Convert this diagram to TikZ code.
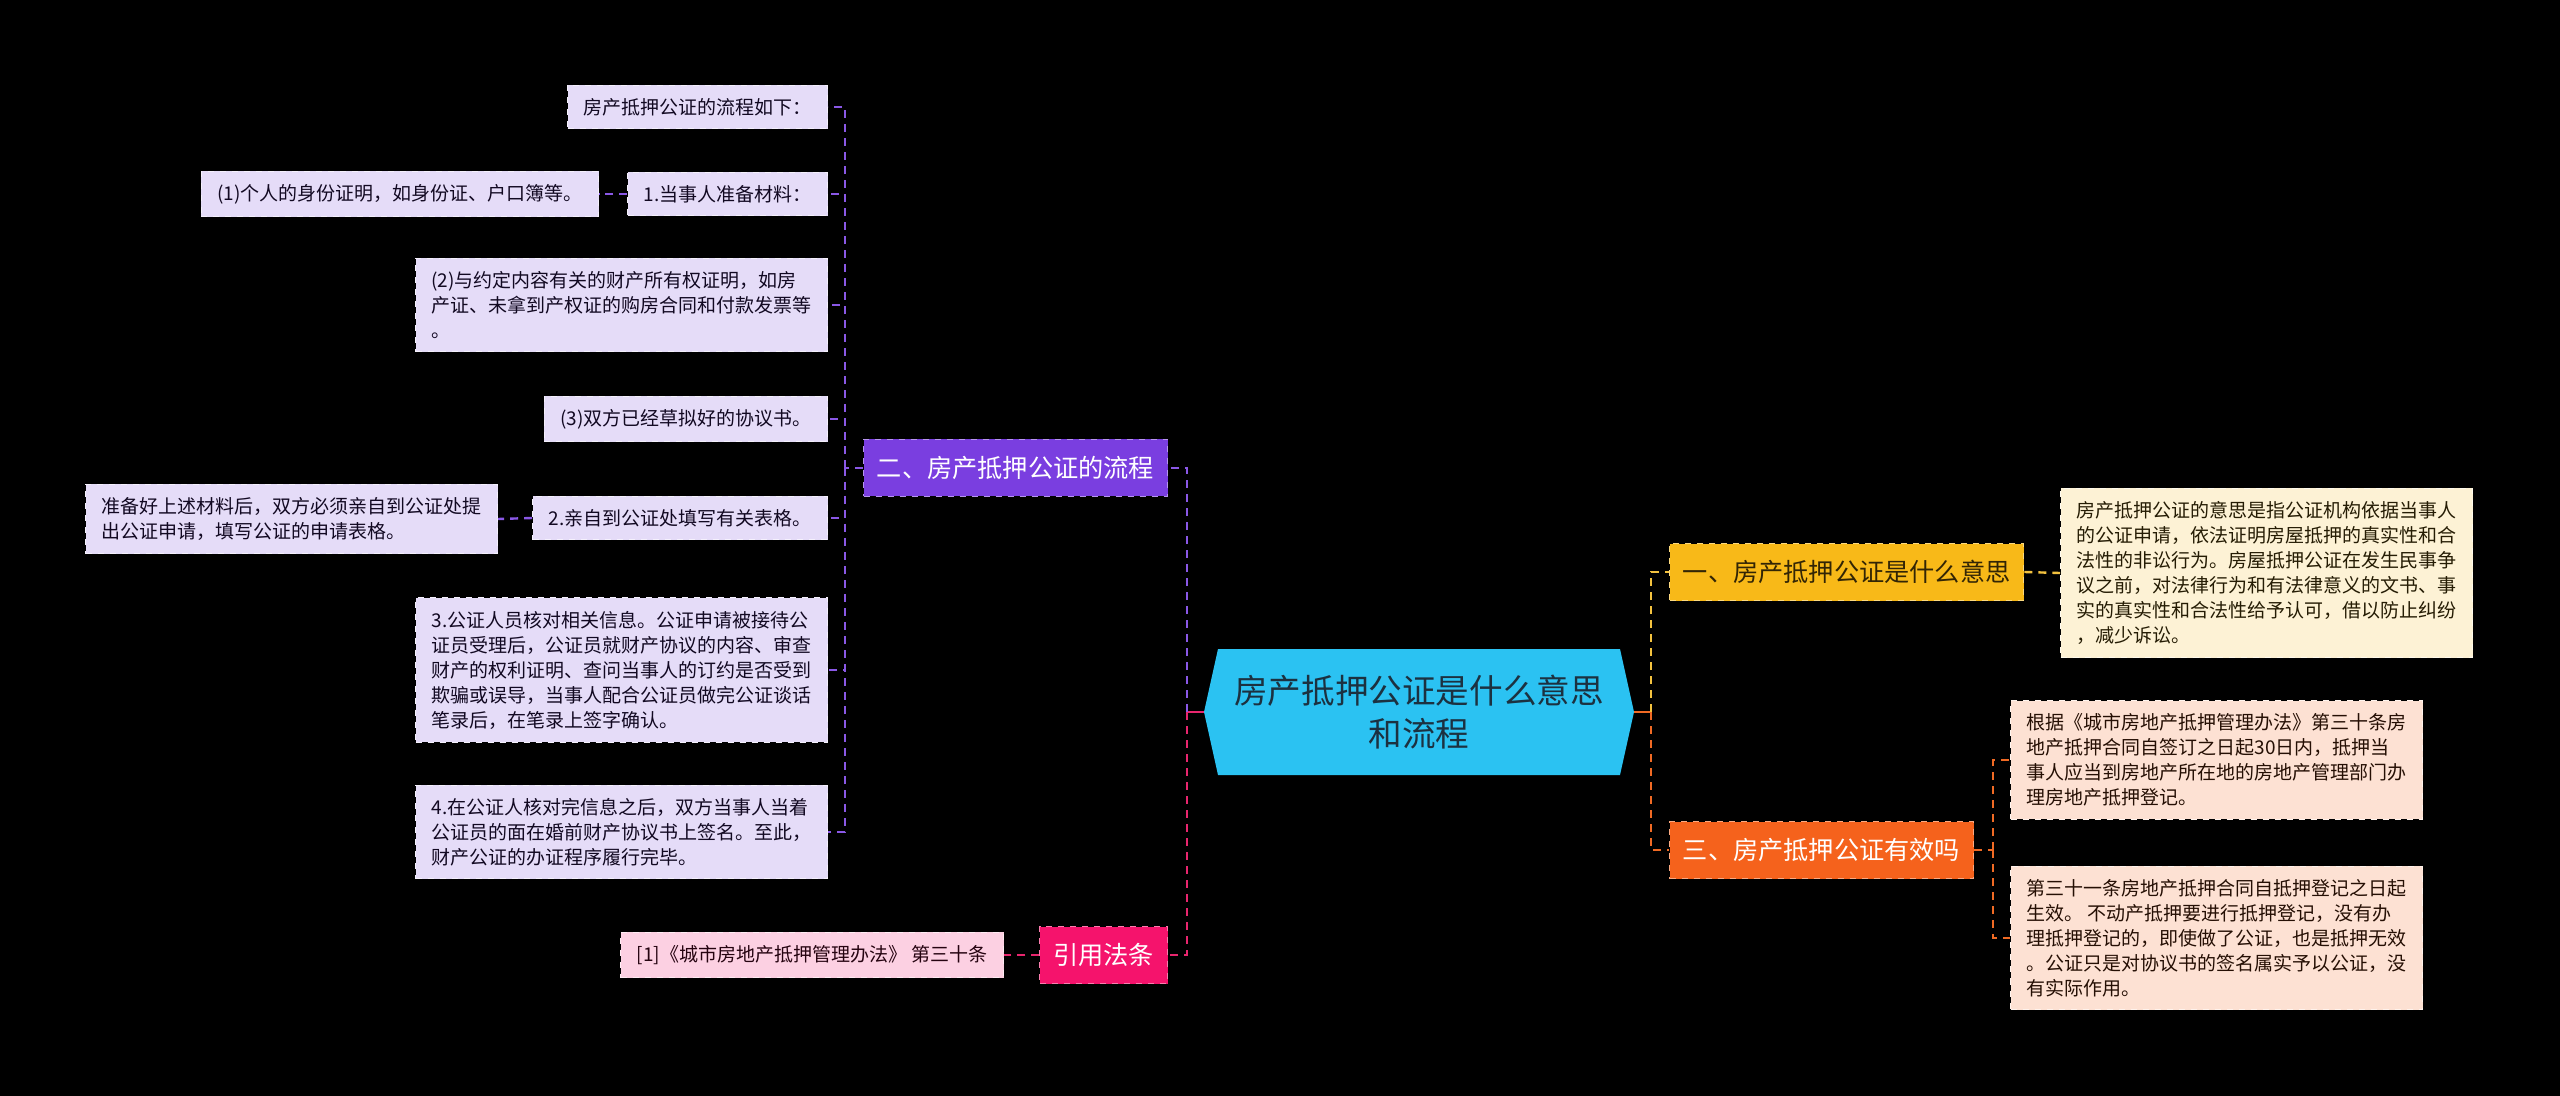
\documentclass[tikz,border=0pt]{standalone}
\usepackage{fontspec}
\setmainfont{Noto Sans CJK SC}
\usepackage{tikz}
\usetikzlibrary{positioning, calc}

\definecolor{rootblue}{HTML}{2BC2F2}
\definecolor{rootink}{HTML}{1C3140}
\definecolor{flowfill}{HTML}{7A3EE0}
\definecolor{flowleaf}{HTML}{E5DCF8}
\definecolor{flowline}{HTML}{8A58E6}
\definecolor{citefill}{HTML}{F5136C}
\definecolor{citeleaf}{HTML}{FCD0E2}
\definecolor{citeline}{HTML}{E8266E}
\definecolor{meanfill}{HTML}{F8B918}
\definecolor{meanleaf}{HTML}{FDF2D5}
\definecolor{meanline}{HTML}{F3C23F}
\definecolor{validfill}{HTML}{F5621C}
\definecolor{validleaf}{HTML}{FDE1D3}
\definecolor{validline}{HTML}{F06A24}

\begin{document}
\begin{tikzpicture}[
x=0.5pt, y=-0.5pt,
    root/.style={inner sep=0pt, minimum width=215pt, minimum height=63pt, align=center, text=rootink,
        font=\fontsize{16.8}{21.5}\selectfont,
        path picture={\fill[rootblue] ([xshift=7pt]path picture bounding box.north west)
            -- ([xshift=-7pt]path picture bounding box.north east) -- (path picture bounding box.east)
            -- ([xshift=-7pt]path picture bounding box.south east) -- ([xshift=7pt]path picture bounding box.south west)
            -- (path picture bounding box.west) -- cycle;}},
    branch/.style={rectangle, inner xsep=6.7pt, inner ysep=0pt, minimum height=28.5pt,
        font=\fontsize{12.6}{15}\selectfont, draw=#1!55!white, dashed, line width=0.5pt, fill=#1},
    leaf/.style={rectangle, inner xsep=8pt, inner ysep=6.5pt, align=left,
        font=\fontsize{9.5}{12.5}\selectfont, draw=#1!40!white, dashed, line width=0.5pt, fill=#1},
    line/.style={draw, line width=1.2pt},
    dline/.style={draw, line width=1.2pt, dash pattern=on 4pt off 3pt}
]

    % background
    \fill[black] (0,0) rectangle (2560,1096);
    \useasboundingbox (0,0) rectangle (2560,1096);

    % Root
    \node[root] (root) at (1419,712) {房产抵押公证是什么意思\\和流程};

    % Branches
    \node[branch=flowfill, text=white, anchor=east] (flow) at (1168,468) {二、房产抵押公证的流程};
    \node[branch=citefill, text=white, anchor=east] (cite) at (1168,955) {引用法条};
    \node[branch=meanfill, text=black!80!meanfill, anchor=west] (mean) at (1669,572) {一、房产抵押公证是什么意思};
    \node[branch=validfill, text=white, anchor=west] (valid) at (1669,850) {三、房产抵押公证有效吗};

    % Flow leaves
    \node[leaf=flowleaf, text=black!85!flowfill, anchor=east] (s0) at (828,107) {房产抵押公证的流程如下：};
    \node[leaf=flowleaf, text=black!85!flowfill, anchor=east] (s1) at (828,194) {1.当事人准备材料：};
    \node[leaf=flowleaf, text=black!85!flowfill, anchor=east] (s1a) at (599,194) {(1)个人的身份证明，如身份证、户口簿等。};
    \node[leaf=flowleaf, text=black!85!flowfill, anchor=east] (s1b) at (828,305) {(2)与约定内容有关的财产所有权证明，如房\\产证、未拿到产权证的购房合同和付款发票等\\。};
    \node[leaf=flowleaf, text=black!85!flowfill, anchor=east] (s1c) at (828,419) {(3)双方已经草拟好的协议书。};
    \node[leaf=flowleaf, text=black!85!flowfill, anchor=east] (s2) at (828,518) {2.亲自到公证处填写有关表格。};
    \node[leaf=flowleaf, text=black!85!flowfill, anchor=east] (s2a) at (498,519) {准备好上述材料后，双方必须亲自到公证处提\\出公证申请，填写公证的申请表格。};
    \node[leaf=flowleaf, text=black!85!flowfill, anchor=east] (s3) at (828,670) {3.公证人员核对相关信息。公证申请被接待公\\证员受理后，公证员就财产协议的内容、审查\\财产的权利证明、查问当事人的订约是否受到\\欺骗或误导，当事人配合公证员做完公证谈话\\笔录后，在笔录上签字确认。};
    \node[leaf=flowleaf, text=black!85!flowfill, anchor=east] (s4) at (828,832) {4.在公证人核对完信息之后，双方当事人当着\\公证员的面在婚前财产协议书上签名。至此，\\财产公证的办证程序履行完毕。};

    % Cite leaf
    \node[leaf=citeleaf, text=black!85!citefill, anchor=east] (citea) at (1004,955) {[1]《城市房地产抵押管理办法》 第三十条};

    % Meaning leaf
    \node[leaf=meanleaf, text=black!85!meanfill, anchor=west] (meana) at (2060,573) {房产抵押公证的意思是指公证机构依据当事人\\的公证申请，依法证明房屋抵押的真实性和合\\法性的非讼行为。房屋抵押公证在发生民事争\\议之前，对法律行为和有法律意义的文书、事\\实的真实性和合法性给予认可，借以防止纠纷\\，减少诉讼。};

    % Valid leaves
    \node[leaf=validleaf, text=black!85!validfill, anchor=west] (valida) at (2010,760) {根据《城市房地产抵押管理办法》第三十条房\\地产抵押合同自签订之日起30日内，抵押当\\事人应当到房地产所在地的房地产管理部门办\\理房地产抵押登记。};
    \node[leaf=validleaf, text=black!85!validfill, anchor=west] (validb) at (2010,938) {第三十一条房地产抵押合同自抵押登记之日起\\生效。 不动产抵押要进行抵押登记，没有办\\理抵押登记的，即使做了公证，也是抵押无效\\。公证只是对协议书的签名属实予以公证，没\\有实际作用。};

    % Bus points
    \coordinate (lbus) at (1187,712);
    \coordinate (rbus) at (1651,712);
    \coordinate (fbus) at (845,468);
    \coordinate (vbus) at (1993,850);

    % Connect root and branches
    \draw[line, citeline] (root.west) -- (lbus);
    \draw[dline, flowline] (lbus) |- (flow.east);
    \draw[dline, citeline] (lbus) |- (cite.east);
    \draw[line, validline] (root.east) -- (rbus);
    \draw[dline, meanline] (rbus) |- (mean.west);
    \draw[dline, validline] (rbus) |- (valid.west);

    % Connect flow leaves
    \draw[dline, flowline] (flow.west) -- (fbus);
    \foreach \n in {s0,s1,s1b,s1c,s2,s3,s4}
        \draw[dline, flowline] (fbus) |- (\n.east);
    \draw[dline, flowline] (s1.west) -- (s1a.east);
    \draw[dline, flowline] (s2.west) -- (s2a.east);

    % Connect other leaves
    \draw[dline, citeline] (cite.west) -- (citea.east);
    \draw[dline, meanline] (mean.east) -- (meana.west);
    \draw[dline, validline] (valid.east) -- (vbus);
    \draw[dline, validline] (vbus) |- (valida.west);
    \draw[dline, validline] (vbus) |- (validb.west);

\end{tikzpicture}
\end{document}
